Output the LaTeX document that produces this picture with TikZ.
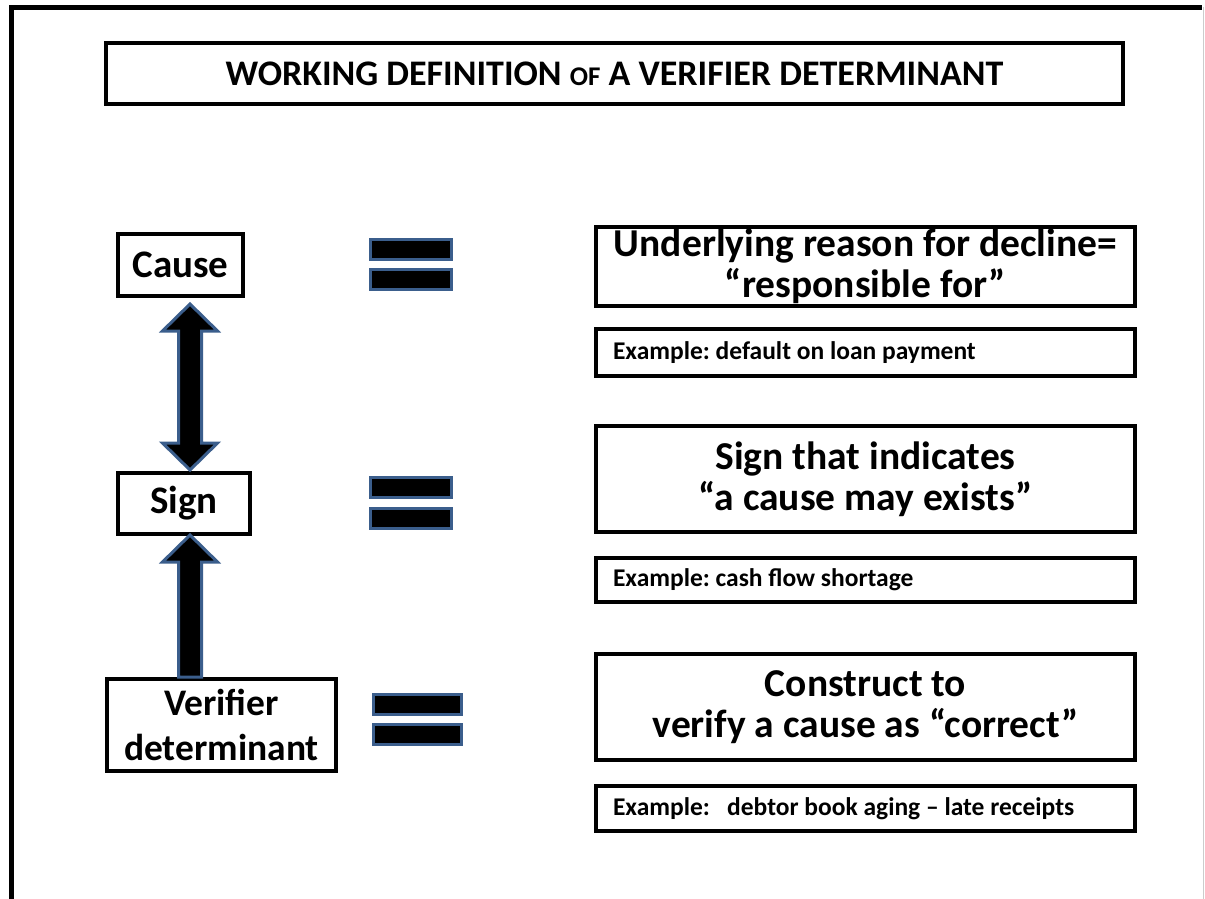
\documentclass[tikz,border=0pt]{standalone}
\usepackage{fontspec}
\setmainfont{Carlito}
\usetikzlibrary{calc}
\definecolor{arrblue}{HTML}{3B5E8C}
\frenchspacing
\begin{document}
\begin{tikzpicture}[x=1pt,y=-1pt,
  box/.style={draw=black, line width=4pt, fill=white, inner sep=0pt, align=center, font=\bfseries},
  bigtxt/.style={font=\bfseries\fontsize{39.5}{41}\selectfont},
  lefttxt/.style={font=\bfseries\fontsize{39}{45}\selectfont},
  eqbar/.style={draw=arrblue, fill=black, line width=3pt, inner sep=0pt, minimum height=20pt},
  blockarrow/.style={draw=arrblue, fill=black, line width=3pt, line join=miter}
]
\useasboundingbox (0,0) rectangle (1205,899);
\fill[white] (0,0) rectangle (1205,899);
% outer frame
\draw[line width=5pt] (11.5,899) -- (11.5,7.5) -- (1202,7.5);
\draw[black!20, line width=1.5pt] (1203.5,7.5) -- (1203.5,899);

% title
\node[box, minimum width=1017pt, minimum height=61pt] (title) at (614.5,73.5)
  {\fontsize{36}{40}\selectfont WORKING DEFINITION {\fontsize{27}{30}\selectfont OF} A VERIFIER DETERMINANT};

% left boxes
\node[box, lefttxt, minimum width=125pt, minimum height=62pt] (cause) at (180.5,265) {Cause};
\node[box, lefttxt, minimum width=132pt, minimum height=61pt] (sign) at (184,503.5) {Sign};
\node[box, font=\bfseries\fontsize{37.5}{45}\selectfont, minimum width=229pt, minimum height=92pt] (verif) at (221.5,725) {Verifier\\determinant};

% equals signs
\node[eqbar, minimum width=81pt] (eq1a) at (411,249) {};
\node[eqbar, minimum width=81pt] (eq1b) at (411,279) {};
\node[eqbar, minimum width=81pt] (eq2a) at (411,487.5) {};
\node[eqbar, minimum width=81pt] (eq2b) at (411,518) {};
\node[eqbar, minimum width=88pt] (eq3a) at (417.5,704.5) {};
\node[eqbar, minimum width=88pt] (eq3b) at (417.5,734) {};

% right boxes
\node[box, bigtxt, minimum width=539pt, minimum height=79pt] (def1) at (865.5,266.5)
  {Underlying reason for decline=\\“responsible for”};
\node[box, minimum width=539pt, minimum height=47pt] (ex1) at (865.5,352.5)
  {\makebox[505pt][l]{\bfseries\fontsize{25.5}{28}\selectfont Example: default on loan payment}};
\node[box, minimum width=539pt, minimum height=106pt] (def2) at (865.5,479)
  {\raisebox{-3pt}{\parbox{520pt}{\centering\bfseries\fontsize{39.5}{41}\selectfont Sign that indicates\\“a cause may exists”}}};
\node[box, minimum width=539pt, minimum height=44pt] (ex2) at (865.5,580)
  {\makebox[505pt][l]{\bfseries\fontsize{25.5}{28}\selectfont Example: cash flow shortage}};
\node[box, bigtxt, minimum width=539pt, minimum height=106pt] (def3) at (865.5,707)
  {Construct to\\verify a cause as “correct”};
\node[box, minimum width=539pt, minimum height=45pt] (ex3) at (865.5,808.5)
  {\makebox[505pt][l]{\bfseries\fontsize{25.5}{28}\selectfont Example:\ \ \ debtor book aging – late receipts}};

% block arrows
\coordinate (ax) at (190,0);
\coordinate (t1) at ($(cause.south -| ax)+(0,6)$);
\coordinate (b1) at ($(sign.north -| ax)+(0,-1)$);
\draw[blockarrow] (t1) -- ($(t1)+(27.5,27)$) -- ($(t1)+(11.5,27)$) -- ($(b1)+(11.5,-27)$)
  -- ($(b1)+(27.5,-27)$) -- (b1) -- ($(b1)+(-27.5,-27)$) -- ($(b1)+(-11.5,-27)$)
  -- ($(t1)+(-11.5,27)$) -- ($(t1)+(-27.5,27)$) -- cycle;
\coordinate (t2) at ($(sign.south -| ax)+(0,-1)$);
\coordinate (b2) at ($(verif.north -| ax)+(0,0)$);
\draw[blockarrow] (t2) -- ($(t2)+(27.5,27)$) -- ($(t2)+(11.5,27)$) -- ($(b2)+(11.5,0)$)
  -- ($(b2)+(-11.5,0)$) -- ($(t2)+(-11.5,27)$) -- ($(t2)+(-27.5,27)$) -- cycle;
\end{tikzpicture}
\end{document}
